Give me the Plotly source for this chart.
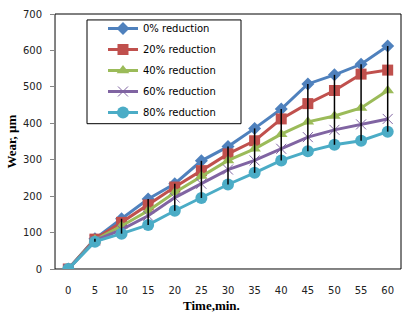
import plotly.graph_objects as go

times = ["0", "5", "10", "15", "20", "25", "30", "35", "40", "45", "50", "55", "60"]
red_0 = [0, 83, 138, 192, 234, 297, 336, 386, 439, 508, 533, 562, 612]
red_20 = [0, 82, 128, 176, 225, 270, 316, 352, 412, 454, 490, 535, 546]
red_40 = [0, 80, 118, 160, 210, 255, 298, 330, 370, 404, 420, 442, 490]
red_60 = [0, 78, 108, 146, 196, 234, 273, 298, 330, 362, 382, 397, 412]
red_80 = [0, 75, 97, 121, 160, 195, 232, 264, 298, 323, 341, 352, 377]
names = ["0% reduction", "20% reduction", "40% reduction", "60% reduction", "80% reduction"]
y_ticks = [0, 100, 200, 300, 400, 500, 600, 700]

series = [red_0, red_20, red_40, red_60, red_80]
colors = ["#4F81BD", "#C0504D", "#9BBB59", "#8064A2", "#4BACC6"]
symbols = ["diamond", "square", "triangle-up", "x-thin", "circle"]
sizes = [10, 11, 11, 10, 12]

fig = go.Figure()
for i, (vals, name) in enumerate(zip(series, names)):
    marker = dict(symbol=symbols[i], size=sizes[i], color=colors[i])
    if symbols[i] == "x-thin":
        marker["line"] = dict(width=1, color=colors[i])
    fig.add_trace(go.Scatter(
        x=times, y=vals, name=name, mode="lines+markers",
        line=dict(color=colors[i], width=3), marker=marker,
        legendgroup=name,
    ))

# high-low lines from max to min at each time
hx, hy = [], []
for j, t in enumerate(times):
    col = [s[j] for s in series]
    hx += [t, t, None]
    hy += [max(col), min(col), None]
fig.add_trace(go.Scatter(x=hx, y=hy, mode="lines", line=dict(color="black", width=1.5),
                         showlegend=False, hoverinfo="skip"))

fig.update_layout(
    width=409, height=319,
    margin=dict(l=55, r=8, t=11, b=50),
    paper_bgcolor="white", plot_bgcolor="white",
    font=dict(family="DejaVu Sans", size=10, color="#222"),
    showlegend=True,
    legend=dict(
        x=0.1387, y=1.0, xanchor="left", yanchor="top",
        bgcolor="rgba(0,0,0,0)", borderwidth=0,
        font=dict(family="DejaVu Sans", size=10, color="black"),
        traceorder="grouped", tracegroupgap=2,
    ),
    xaxis=dict(
        type="category", categoryorder="array", categoryarray=times,
        range=[-0.5, 12.5], showgrid=False, zeroline=False,
        showline=True, linecolor="#868686", linewidth=1,
        ticks="", ticklabelstandoff=12,
    ),
    yaxis=dict(
        range=[0, 700], tickvals=y_ticks, showgrid=False, zeroline=False,
        showline=True, linecolor="#868686", linewidth=1,
        ticks="outside", ticklen=4, tickcolor="#868686", ticklabelstandoff=6,
    ),
    shapes=[
        dict(type="rect", xref="x domain", yref="y domain", x0=0, x1=1, y0=0, y1=1,
             line=dict(color="black", width=1), layer="below"),
        dict(type="rect", xref="x domain", yref="y domain", x0=0.0925, x1=0.5376,
             y0=0.5698, y1=0.9767, fillcolor="white",
             line=dict(color="black", width=1), layer="below"),
    ],
    annotations=[
        dict(text="<b>Time,min.</b>", xref="paper", yref="paper", x=0.451, y=-0.145,
             xanchor="center", yanchor="middle", showarrow=False,
             font=dict(family="Liberation Serif", size=13, color="black")),
        dict(text="<b>Wear, µm</b>", xref="paper", yref="paper", x=-0.127, y=0.5,
             xanchor="center", yanchor="middle", showarrow=False, textangle=-90,
             font=dict(family="Liberation Serif", size=13, color="black")),
    ],
)

fig.write_html("out.html", config={"displayModeBar": False},
               post_script="document.body.style.margin='0';document.body.style.overflow='hidden';")
